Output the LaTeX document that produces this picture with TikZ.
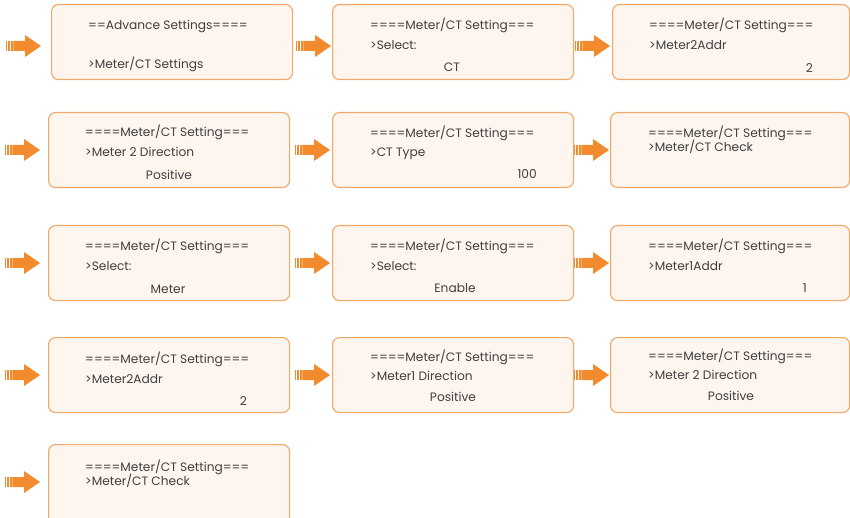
\documentclass[tikz,border=0pt]{standalone}
\usepackage{fontspec}
\setmainfont{Poppins}
\definecolor{boxfill}{HTML}{FDF5EE}
\definecolor{boxline}{HTML}{F3A767}
\definecolor{arrcol}{HTML}{F28A2E}
\definecolor{txt}{HTML}{404040}
\tikzset{
  screen/.style={draw=boxline, fill=boxfill, line width=1.1pt, rounded corners=7pt},
  lbl/.style={anchor=base west, inner sep=0pt, text=txt, font=\fontsize{12.2}{14}\selectfont},
  lblc/.style={lbl, anchor=base},
  lble/.style={lbl, anchor=base east},
  pics/go/.style={code={
    \fill[arrcol] (-16,-11) -- (0,0) -- (-16,11) -- (-16,5) -- (-27.7,5) -- (-27.7,-5) -- (-16,-5) -- cycle;
    \fill[arrcol] (-35.5,-5) rectangle (-33.8,5);
    \fill[arrcol] (-32.8,-5) rectangle (-31.1,5);
    \fill[arrcol] (-30.1,-5) rectangle (-28.5,5);
  }}
}
\begin{document}
\begin{tikzpicture}[x=1pt,y=-1pt]
\useasboundingbox (0,0) rectangle (850,518);
\clip (0,0) rectangle (850,518);
% row 1
\pic (a11) at (41,46) {go};
\node[screen, minimum width=241pt, minimum height=75pt, anchor=north west] (b11) at (51,4) {};
\node[lbl] (t11a) at (88,30) {==Advance Settings====};
\node[lbl] (t11b) at (88,69) {>Meter/CT Settings};
\pic (a12) at (331,46) {go};
\node[screen, minimum width=241pt, minimum height=75pt, anchor=north west] (b12) at (332,4) {};
\node[lbl] (t12a) at (370,30) {====Meter/CT Setting===};
\node[lbl] (t12b) at (370,50) {>Select:};
\node[lblc] (t12c) at (452,72) {CT};
\pic (a13) at (610,46) {go};
\node[screen, minimum width=237pt, minimum height=75pt, anchor=north west] (b13) at (612,4) {};
\node[lbl] (t13a) at (649,30) {====Meter/CT Setting===};
\node[lbl] (t13b) at (649,50) {>Meter2Addr};
\node[lble] (t13c) at (813,73) {2};
% row 2
\pic (a21) at (40,150) {go};
\node[screen, minimum width=241pt, minimum height=75pt, anchor=north west] (b21) at (48,112) {};
\node[lbl] (t21a) at (85,137) {====Meter/CT Setting===};
\node[lbl] (t21b) at (85,157) {>Meter 2 Direction};
\node[lblc] (t21c) at (169,180) {Positive};
\pic (a22) at (330,150) {go};
\node[screen, minimum width=241pt, minimum height=75pt, anchor=north west] (b22) at (332,112) {};
\node[lbl] (t22a) at (370,138) {====Meter/CT Setting===};
\node[lbl] (t22b) at (370,157) {>CT Type};
\node[lble] (t22c) at (537,179) {100};
\pic (a23) at (609,150) {go};
\node[screen, minimum width=239pt, minimum height=75pt, anchor=north west] (b23) at (610,112) {};
\node[lbl] (t23a) at (648,138) {====Meter/CT Setting===};
\node[lbl] (t23b) at (648,152) {>Meter/CT Check};
% row 3
\pic (a31) at (40,263) {go};
\node[screen, minimum width=241pt, minimum height=75pt, anchor=north west] (b31) at (48,225) {};
\node[lbl] (t31a) at (85,251) {====Meter/CT Setting===};
\node[lbl] (t31b) at (85,270) {>Select:};
\node[lblc] (t31c) at (168,293) {Meter};
\pic (a32) at (330,263) {go};
\node[screen, minimum width=241pt, minimum height=75pt, anchor=north west] (b32) at (332,225) {};
\node[lbl] (t32a) at (370,251) {====Meter/CT Setting===};
\node[lbl] (t32b) at (370,270) {>Select:};
\node[lblc] (t32c) at (455,292) {Enable};
\pic (a33) at (609,263) {go};
\node[screen, minimum width=239pt, minimum height=75pt, anchor=north west] (b33) at (610,225) {};
\node[lbl] (t33a) at (648,251) {====Meter/CT Setting===};
\node[lbl] (t33b) at (648,270) {>Meter1Addr};
\node[lble] (t33c) at (807,292) {1};
% row 4
\pic (a41) at (40,375) {go};
\node[screen, minimum width=241pt, minimum height=75pt, anchor=north west] (b41) at (48,337) {};
\node[lbl] (t41a) at (85,363) {====Meter/CT Setting===};
\node[lbl] (t41b) at (85,383) {>Meter2Addr};
\node[lble] (t41c) at (247,405) {2};
\pic (a42) at (330,375) {go};
\node[screen, minimum width=241pt, minimum height=75pt, anchor=north west] (b42) at (332,337) {};
\node[lbl] (t42a) at (370,361) {====Meter/CT Setting===};
\node[lbl] (t42b) at (370,380) {>Meter1 Direction};
\node[lblc] (t42c) at (453,401) {Positive};
\pic (a43) at (609,375) {go};
\node[screen, minimum width=239pt, minimum height=75pt, anchor=north west] (b43) at (610,337) {};
\node[lbl] (t43a) at (648,360) {====Meter/CT Setting===};
\node[lbl] (t43b) at (648,379) {>Meter 2 Direction};
\node[lblc] (t43c) at (731,400) {Positive};
% row 5
\pic (a51) at (40,482) {go};
\node[screen, minimum width=241pt, minimum height=85pt, anchor=north west] (b51) at (48,444) {};
\node[lbl] (t51a) at (85,471) {====Meter/CT Setting===};
\node[lbl] (t51b) at (85,485) {>Meter/CT Check};
\end{tikzpicture}
\end{document}
